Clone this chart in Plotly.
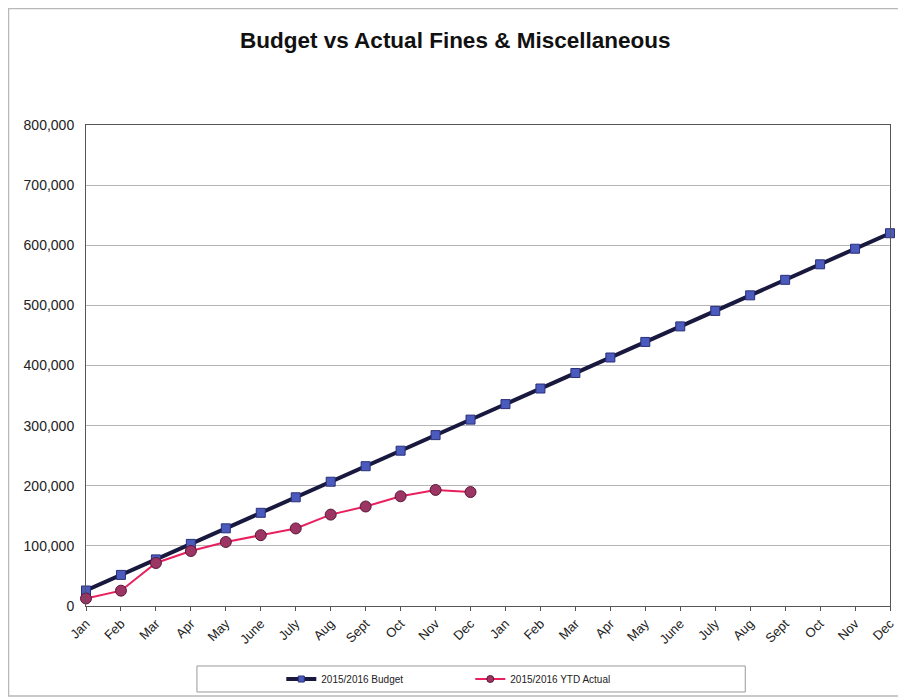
import plotly.graph_objects as go

months = ["Jan", "Feb", "Mar", "Apr", "May", "June", "July", "Aug", "Sept", "Oct", "Nov", "Dec",
          "Jan", "Feb", "Mar", "Apr", "May", "June", "July", "Aug", "Sept", "Oct", "Nov", "Dec"]
budget = [25800, 51700, 77500, 103300, 129200, 155000, 180800, 206700, 232500, 258300, 284200, 310000,
          335800, 361700, 387500, 413300, 439200, 465000, 490800, 516700, 542500, 568300, 594200, 620000]
ytd_actual = [12500, 25500, 71500, 91500, 106500, 117800, 129000, 152000, 165500, 182500, 193000, 189500]

x_idx = list(range(len(months)))

BUDGET_LINE = dict(color="#19183f", width=4)
ACTUAL_LINE = dict(color="#e8205e", width=2)

fig = go.Figure()
fig.add_trace(go.Scatter(
    x=x_idx, y=budget, name="2015/2016 Budget", mode="lines+markers", showlegend=False,
    line=BUDGET_LINE,
    marker=dict(symbol="square", size=9, color="#4b5bbd", line=dict(color="#2a2f78", width=1)),
    cliponaxis=False,
))
fig.add_trace(go.Scatter(
    x=x_idx[:len(ytd_actual)], y=ytd_actual, name="2015/2016 YTD Actual", mode="lines+markers",
    showlegend=False, line=ACTUAL_LINE,
    marker=dict(symbol="circle", size=11, color="#9c3564", line=dict(color="#5a1838", width=1)),
    cliponaxis=False,
))
# legend entries with small markers, like the original
fig.add_trace(go.Scatter(
    x=[None], y=[None], name="2015/2016 Budget", mode="lines+markers", line=BUDGET_LINE,
    marker=dict(symbol="square", size=6, color="#4b5bbd", line=dict(color="#2a2f78", width=1)),
))
fig.add_trace(go.Scatter(
    x=[None], y=[None], name="2015/2016 YTD Actual", mode="lines+markers", line=ACTUAL_LINE,
    marker=dict(symbol="circle", size=7, color="#9c3564", line=dict(color="#5a1838", width=1)),
))

# outer frame and legend box (paper coords relative to plot area)
fig.add_shape(type="rect", xref="paper", yref="paper", x0=-0.0964, x1=1.0162, y0=-0.1871, y1=1.2422,
              line=dict(color="#b8b8b8", width=1.5), layer="below")
fig.add_shape(type="rect", xref="paper", yref="paper", x0=0.138, x1=0.820, y0=-0.1788, y1=-0.1247,
              line=dict(color="#999999", width=1), layer="below")

fig.update_layout(
    width=898, height=690,
    margin=dict(l=78, r=16, t=117, b=92, autoexpand=False),
    paper_bgcolor="white", plot_bgcolor="white",
    font=dict(family="Liberation Sans, Arial", color="#222222"),
    title=dict(text="<b>Budget vs Actual Fines & Miscellaneous</b>", x=0.498, xanchor="center",
               y=0.9536, yanchor="middle", font=dict(size=22.5, color="#111111")),
    showlegend=True,
    legend=dict(orientation="h", x=0.478, xanchor="center", y=-0.1518, yanchor="middle",
                entrywidth=144, entrywidthmode="pixels", itemwidth=30,
                font=dict(size=10, color="#222222"), bgcolor="rgba(0,0,0,0)"),
    xaxis=dict(range=[0, 23], tickvals=x_idx, ticktext=months, tickangle=-45, automargin=False,
               showgrid=False, zeroline=False, showline=True, linecolor="#555555", linewidth=1,
               mirror=True, ticks="outside", ticklen=4, tickcolor="#555555",
               tickfont=dict(size=13, color="#222222")),
    yaxis=dict(range=[0, 800000], dtick=100000, tickformat=",", showgrid=True, gridcolor="#b5b5b5",
               gridwidth=1, zeroline=False, showline=True, linecolor="#555555", linewidth=1,
               mirror=True, ticks="", automargin=False, ticklabelstandoff=8,
               tickfont=dict(size=14, color="#222222")),
)

fig.write_html("out.html")
